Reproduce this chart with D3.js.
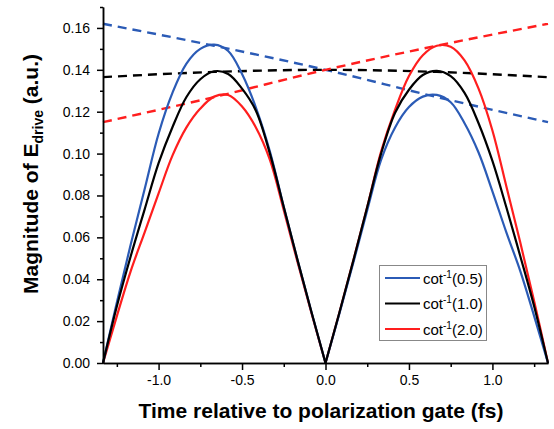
<!DOCTYPE html>
<html>
<head>
<meta charset="utf-8">
<script src="https://cdn.jsdelivr.net/npm/d3@7"></script>
<style>
  body { margin: 0; background: #fff; }
  svg { display: block; font-family: "Liberation Sans", Arial, sans-serif; }
</style>
</head>
<body>
<svg width="554" height="429"></svg>
<script>
// time grid (fs), 1/12 fs steps over two half cycles
const timeFs = [-1.333, -1.25, -1.167, -1.083, -1.0, -0.917, -0.833, -0.75, -0.667, -0.583, -0.5, -0.417, -0.333, -0.25, -0.167, -0.083, 0,
  0.083, 0.167, 0.25, 0.333, 0.417, 0.5, 0.583, 0.667, 0.75, 0.833, 0.917, 1.0, 1.083, 1.167, 1.25, 1.333];

const field05 = [0, 0.0289, 0.0566, 0.0832, 0.1095, 0.129, 0.143, 0.150, 0.152, 0.149, 0.138, 0.122, 0.101, 0.0745, 0.049, 0.024, 0,
  0.0235, 0.048, 0.073, 0.097, 0.1125, 0.1222, 0.1272, 0.128, 0.1245, 0.1145, 0.1005, 0.082, 0.0625, 0.0439, 0.0224, 0];
const field10 = [0, 0.0271, 0.051, 0.0735, 0.0954, 0.1126, 0.127, 0.1355, 0.1393, 0.138, 0.131, 0.1205, 0.100, 0.0745, 0.049, 0.024, 0,
  0.024, 0.049, 0.0745, 0.100, 0.1195, 0.1305, 0.1375, 0.1395, 0.137, 0.129, 0.1145, 0.0965, 0.0745, 0.051, 0.0271, 0];
const field20 = [0, 0.0224, 0.0439, 0.0625, 0.081, 0.099, 0.1125, 0.1215, 0.1272, 0.128, 0.1225, 0.1125, 0.097, 0.073, 0.048, 0.0235, 0,
  0.024, 0.049, 0.0745, 0.101, 0.121, 0.137, 0.147, 0.1515, 0.151, 0.1445, 0.131, 0.111, 0.0845, 0.0575, 0.0295, 0];

// envelopes (dashed)
const envTime = [-1.333, -0.667, 0, 0.667, 1.333];
const env05 = [0.162, 0.1515, 0.140, 0.127, 0.115];
const env10 = [0.1365, 0.139, 0.140, 0.139, 0.1365];
const env20 = [0.115, 0.127, 0.140, 0.1515, 0.162];

const seriesNames = ['0.5', '1.0', '2.0'];
const seriesColors = ['#2b5bb6', '#000000', '#ff1e1e'];

const yMajor = [0, 0.02, 0.04, 0.06, 0.08, 0.10, 0.12, 0.14, 0.16];
const yMinor = [0.01, 0.03, 0.05, 0.07, 0.09, 0.11, 0.13, 0.15, 0.17];
const xMajor = [-1.0, -0.5, 0, 0.5, 1.0];
const xMinor = [-1.25, -0.75, -0.25, 0.25, 0.75, 1.25];

const svg = d3.select('svg');
const x = d3.scaleLinear().domain([-1.333, 1.333]).range([103, 548]);
const y = d3.scaleLinear().domain([0, 0.17]).range([363, 7]);

const fields = [field05, field10, field20];
const envs = [env05, env10, env20];

const line = d3.line().x(d => x(d[0])).y(d => y(d[1]));

// dashed envelopes first
envs.forEach((e, i) => {
  svg.append('path')
    .datum(envTime.map((t, k) => [t, e[k]]))
    .attr('d', line.curve(d3.curveMonotoneX))
    .attr('fill', 'none').attr('stroke', seriesColors[i])
    .attr('stroke-width', 2.4).attr('stroke-dasharray', '9,6');
});

// solid curves: draw each half cycle separately so the cusp at 0 stays sharp
const halves = [[0, 16], [16, 32]];
[2, 0, 1].forEach(i => {
  halves.forEach(([a, b]) => {
    const pts = timeFs.slice(a, b + 1).map((t, k) => [t, fields[i][a + k]]);
    svg.append('path').datum(pts)
      .attr('d', line.curve(d3.curveCatmullRom.alpha(0.5)))
      .attr('fill', 'none').attr('stroke', seriesColors[i]).attr('stroke-width', 2.2);
  });
});

// axes
const fmtX = d => d3.format('.1f')(d).replace('−', '-');
function styleAxis(g) {
  g.select('.domain').attr('stroke-width', 1.5);
  g.selectAll('line').attr('stroke-width', 1.5);
  g.selectAll('text').attr('font-size', 14).attr('fill', '#000');
}
svg.append('g').attr('transform', 'translate(0,363)')
  .call(d3.axisBottom(x).tickValues(xMajor).tickSize(7).tickSizeOuter(0).tickPadding(5).tickFormat(fmtX))
  .call(styleAxis);
svg.append('g').attr('transform', 'translate(0,363)')
  .call(d3.axisBottom(x).tickValues(xMinor).tickSize(4).tickSizeOuter(0).tickFormat(''))
  .call(styleAxis);
svg.append('g').attr('transform', 'translate(103,0)')
  .call(d3.axisLeft(y).tickValues(yMajor).tickSize(6).tickSizeOuter(0).tickPadding(7).tickFormat(d3.format('.2f')))
  .call(styleAxis);
svg.append('g').attr('transform', 'translate(103,0)')
  .call(d3.axisLeft(y).tickValues(yMinor).tickSize(3).tickSizeOuter(0).tickFormat(''))
  .call(styleAxis);

// axis titles
svg.append('text').attr('x', 321).attr('y', 418).attr('text-anchor', 'middle')
  .attr('font-size', 21).attr('font-weight', 'bold')
  .text('Time relative to polarization gate (fs)');

const yt = svg.append('text').attr('transform', 'translate(38,174) rotate(-90)')
  .attr('text-anchor', 'middle').attr('font-size', 21).attr('font-weight', 'bold');
yt.append('tspan').text('Magnitude of E');
yt.append('tspan').attr('font-size', 14).attr('dy', 5).text('drive');
yt.append('tspan').attr('dy', -5).text(' (a.u.)');

// legend
const lg = svg.append('g');
lg.append('rect').attr('x', 379.5).attr('y', 265.5).attr('width', 107).attr('height', 75)
  .attr('fill', '#fff').attr('stroke', '#888').attr('stroke-width', 1);
seriesNames.forEach((n, i) => {
  const yy = 278 + i * 25.5;
  lg.append('line').attr('x1', 385).attr('x2', 420).attr('y1', yy).attr('y2', yy)
    .attr('stroke', seriesColors[i]).attr('stroke-width', 2.2);
  const t = lg.append('text').attr('x', 423).attr('y', yy + 5.5).attr('font-size', 15);
  t.append('tspan').text('cot');
  t.append('tspan').attr('font-size', 10).attr('dy', -6).text('-1');
  t.append('tspan').attr('dy', 6).text('(' + n + ')');
});
</script>
</body>
</html>
